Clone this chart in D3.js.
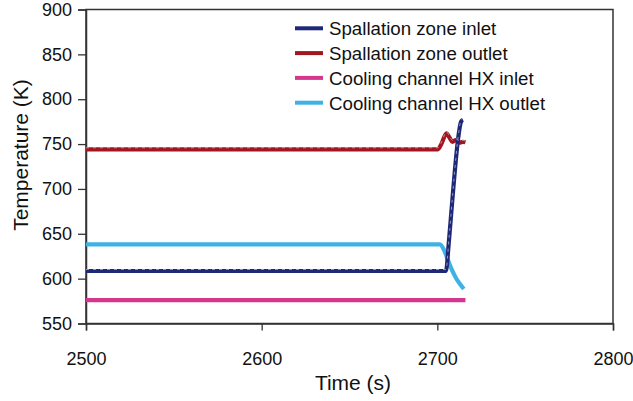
<!DOCTYPE html>
<html>
<head>
<meta charset="utf-8">
<script src="https://cdn.jsdelivr.net/npm/d3@7"></script>
<style>
  html, body { margin: 0; padding: 0; background: #fff; }
  svg { display: block; font-family: "Liberation Sans", Arial, sans-serif; }
</style>
</head>
<body>
<svg id="chart" width="633" height="401"></svg>
<script>
// Temperature histories near the transient (time in s, temperature in K)
const seriesNames = [
  "Spallation zone inlet",
  "Spallation zone outlet",
  "Cooling channel HX inlet",
  "Cooling channel HX outlet"
];
const seriesColors = ["#1e2878", "#a3161f", "#d4378c", "#3fb2e4"];

const inletTime = [2500, 2600, 2704.9, 2706.6, 2708.3, 2710.0, 2711.7, 2713.5, 2714.6];
const inletTemp = [608.5, 608.5, 608.5, 642, 682, 721, 754, 775, 777];

const outletTime = [2500, 2600, 2700.3, 2702.5, 2705.2, 2707.0, 2708.6, 2710.5, 2712.5, 2714.6, 2716];
const outletTemp = [744.2, 744.2, 744.2, 751, 762, 757, 752.5, 754.5, 751.5, 752.5, 752];

const hxInletTime = [2500, 2600, 2716];
const hxInletTemp = [576, 576, 576];

const hxOutletTime = [2500, 2600, 2701.5, 2703.8, 2706.0, 2708.3, 2710.6, 2712.9, 2715.1];
const hxOutletTemp = [638.3, 638.3, 638.3, 632, 621, 609.7, 600.8, 594, 588.5];

const xTicks = [2500, 2600, 2700, 2800];
const yTicks = [550, 600, 650, 700, 750, 800, 850, 900];

const seriesData = [
  inletTime.map((t, i) => [t, inletTemp[i]]),
  outletTime.map((t, i) => [t, outletTemp[i]]),
  hxInletTime.map((t, i) => [t, hxInletTemp[i]]),
  hxOutletTime.map((t, i) => [t, hxOutletTemp[i]])
];

const svg = d3.select("#chart");
const plotL = 86, plotR = 613, plotT = 9.5, plotB = 323.5;

const x = d3.scaleLinear().domain([2500, 2800]).range([plotL, plotR]);
const y = d3.scaleLinear().domain([550, 900]).range([plotB, plotT]);

const line = d3.line().x(d => x(d[0])).y(d => y(d[1])).curve(d3.curveMonotoneX);

// plot frame
svg.append("rect")
  .attr("x", plotL).attr("y", plotT)
  .attr("width", plotR - plotL).attr("height", plotB - plotT)
  .attr("fill", "none").attr("stroke", "#333").attr("stroke-width", 1.5);

// axes
const xAxis = svg.append("g")
  .attr("transform", `translate(0,${plotB})`)
  .call(d3.axisBottom(x).tickValues(xTicks).tickFormat(d3.format("d")).tickSize(7).tickPadding(22));
const yAxis = svg.append("g")
  .attr("transform", `translate(${plotL},0)`)
  .call(d3.axisLeft(y).tickValues(yTicks).tickFormat(d3.format("d")).tickSize(8).tickPadding(6));

[xAxis, yAxis].forEach(g => {
  g.select(".domain").attr("stroke", "#333").attr("stroke-width", 1.5);
  g.selectAll(".tick line").attr("stroke", "#333").attr("stroke-width", 1.3);
  g.selectAll(".tick text")
    .attr("fill", "#111")
    .style("font-family", "'Liberation Sans', Arial, sans-serif")
    .style("font-size", "18px");
});

// data lines, drawn with the blue inlet curve on top of the others
const order = [2, 1, 3, 0];
order.forEach(i => {
  svg.append("path")
    .datum(seriesData[i])
    .attr("d", line)
    .attr("fill", "none")
    .attr("stroke", seriesColors[i])
    .attr("stroke-width", 4.2)
    .attr("stroke-linejoin", "round")
    .attr("stroke-linecap", "butt");
});

// faint marker trace along the spallation-zone curves
[0, 1].forEach(i => {
  svg.append("path")
    .datum(seriesData[i])
    .attr("d", line)
    .attr("fill", "none")
    .attr("stroke", "#c8c8c8")
    .attr("stroke-width", 1)
    .attr("stroke-dasharray", "3,4")
    .attr("opacity", 0.7)
    .attr("transform", "translate(0,-1.5)");
});

// axis titles
svg.append("text")
  .attr("x", 353).attr("y", 390)
  .attr("text-anchor", "middle")
  .style("font-size", "21px").attr("fill", "#111")
  .text("Time (s)");
svg.append("text")
  .attr("transform", "translate(28,155) rotate(-90)")
  .attr("text-anchor", "middle")
  .style("font-size", "21px").attr("fill", "#111")
  .text("Temperature (K)");

// legend
const legend = svg.append("g");
seriesNames.forEach((name, i) => {
  const ly = 28.3 + i * 24.8;
  legend.append("line")
    .attr("x1", 295).attr("x2", 323)
    .attr("y1", ly).attr("y2", ly)
    .attr("stroke", seriesColors[i]).attr("stroke-width", 4);
  legend.append("text")
    .attr("x", 329).attr("y", ly + 7)
    .style("font-size", "18.7px").attr("fill", "#111")
    .text(name);
});
</script>
</body>
</html>
